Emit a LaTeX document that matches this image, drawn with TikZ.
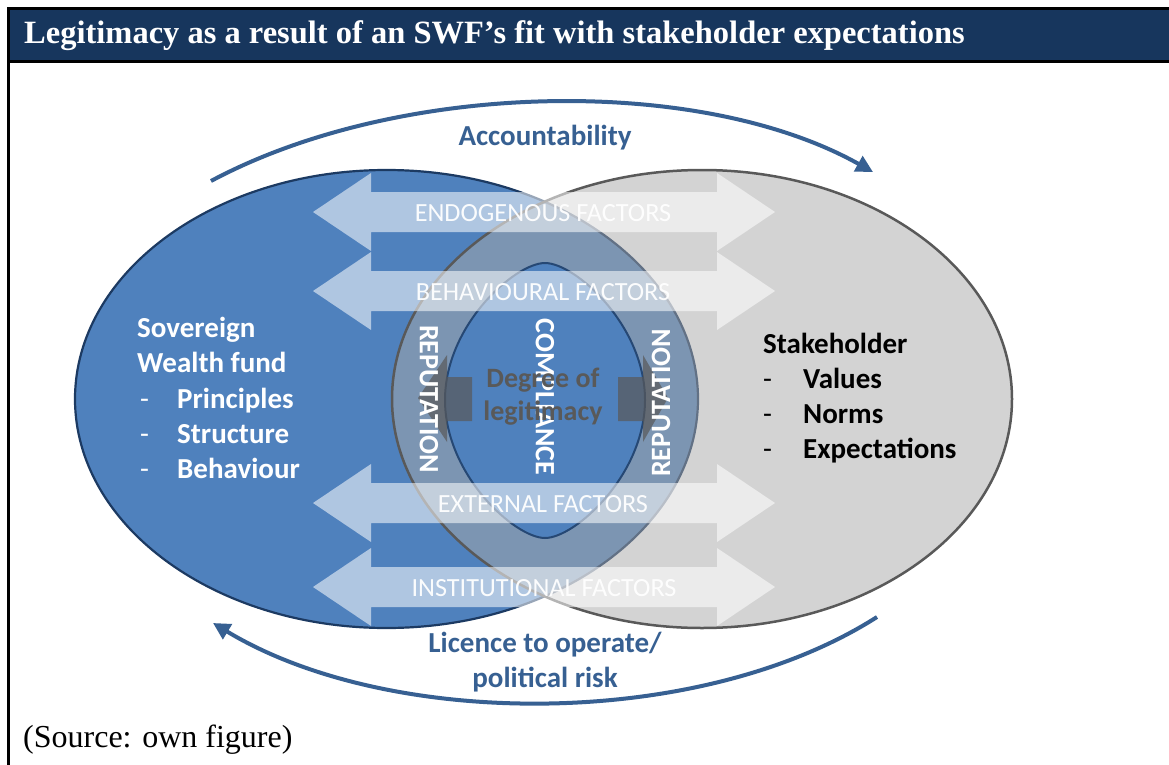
\documentclass[tikz,border=0pt]{standalone}
\usepackage{fontspec}
\setmainfont{Liberation Serif}
\newfontfamily\carlito{Carlito}
\usetikzlibrary{arrows.meta}
\definecolor{hdr}{RGB}{23,54,93}
\definecolor{swfblue}{RGB}{79,129,189}
\definecolor{swfedge}{RGB}{28,58,98}
\definecolor{greyfill}{RGB}{169,169,169}
\definecolor{greyedge}{RGB}{89,89,89}
\definecolor{arcblue}{RGB}{55,96,146}
\definecolor{dgrey}{RGB}{89,89,89}
\tikzset{
  facttext/.style={font=\carlito\fontsize{26.2}{30}\selectfont, text=white, text opacity=0.95, inner sep=0pt},
  vtext/.style={font=\carlito\bfseries\fontsize{28}{32}\selectfont, text=white, inner sep=0pt},
  lbl/.style={font=\carlito\bfseries\fontsize{29}{34}\selectfont, anchor=base west, inner sep=0pt},
  dashlbl/.style={font=\carlito\fontsize{29}{34}\selectfont, anchor=base west, inner sep=0pt},
  arclbl/.style={font=\carlito\bfseries\fontsize{29}{35}\selectfont, text=arcblue, align=center, inner sep=0pt},
  dblarrow/.style={fill=white, fill opacity=0.55},
  darkarrow/.style={fill=dgrey, fill opacity=0.7},
  cyclearc/.style={draw=arcblue, line width=4pt, -{Triangle[length=17pt,width=17pt]}},
}
\begin{document}
\begin{tikzpicture}[x=1pt,y=-1pt]
\useasboundingbox (0,0) rectangle (1169,765);
\fill[white] (0,0) rectangle (1169,765);

% header
\fill[hdr] (8,8) rectangle (1169,62);
\draw[black, line width=3pt] (1169,9) -- (8.5,9) -- (8.5,765);
\draw[black, line width=3pt] (8,62) -- (1169,62);
\node[anchor=base west, inner sep=0pt, text=white, font=\bfseries\fontsize{32.5}{38}\selectfont] (title) at (24,44)
  {Legitimacy as a result of an SWF’s fit with stakeholder expectations};

% ellipses
\fill[swfblue] (386.5,399) ellipse [x radius=311.5, y radius=229];
\draw[swfedge, line width=2.2pt] (386.5,399) ellipse [x radius=311.5, y radius=229];
\fill[greyfill, fill opacity=0.5] (702,399) ellipse [x radius=310, y radius=229];
\draw[greyedge, line width=2.5pt] (702,399) ellipse [x radius=310, y radius=229];

% inner lens
\path[fill=swfblue, draw=swfedge!80!swfblue, line width=2pt]
  (545,263) .. controls (575,263) and (645,325) .. (645,400)
  .. controls (645,475) and (575,538) .. (545,538)
  .. controls (515,538) and (445,475) .. (445,400)
  .. controls (445,325) and (515,263) .. (545,263) -- cycle;

% double arrows
\foreach \c in {212,291,503,587}{
  \path[dblarrow] (313,\c) -- (371,\c-39) -- (371,\c-20) -- (717,\c-20) -- (717,\c-39) -- (775,\c)
    -- (717,\c+39) -- (717,\c+20) -- (371,\c+20) -- (371,\c+39) -- cycle;
}
\node[facttext] (endo) at (543,213) {ENDOGENOUS FACTORS};
\node[facttext] (behav) at (543,292) {BEHAVIOURAL FACTORS};
\node[facttext] (ext) at (543,504) {EXTERNAL FACTORS};
\node[facttext] (inst) at (544,588) {INSTITUTIONAL FACTORS};

% dark arrows
\path[darkarrow] (418,398) -- (447,355) -- (447,377) -- (472,377) -- (472,421) -- (447,421) -- (447,442) -- cycle;
\path[darkarrow] (668,398) -- (643,355) -- (643,377) -- (618,377) -- (618,421) -- (643,421) -- (643,442) -- cycle;

% vertical texts
\node[vtext, rotate=-90] (repl) at (429,399) {REPUTATION};
\node[vtext, rotate=-90] (compl) at (545,397) {COMPLIANCE};
\node[vtext, rotate=90] (repr) at (661,403) {REPUTATION};

% degree text
\node[font=\carlito\bfseries\fontsize{28}{33}\selectfont, text=dgrey, align=center, inner sep=0pt] (degree) at (543,397)
  {Degree of\\legitimacy};

% left text
\node[lbl, text=white] (sov) at (137,337) {Sovereign};
\node[lbl, text=white] (wealth) at (137,372) {Wealth fund};
\node[dashlbl, text=white] (d1) at (140,408) {-};
\node[dashlbl, text=white] (d2) at (140,443) {-};
\node[dashlbl, text=white] (d3) at (140,478) {-};
\node[lbl, text=white] (princ) at (177,408) {Principles};
\node[lbl, text=white] (struct) at (177,443) {Structure};
\node[lbl, text=white] (behv) at (177,478) {Behaviour};

% right text
\node[lbl, text=black] (stake) at (763,353) {Stakeholder};
\node[dashlbl, text=black] (e1) at (763,388) {-};
\node[dashlbl, text=black] (e2) at (763,423) {-};
\node[dashlbl, text=black] (e3) at (763,458) {-};
\node[lbl, text=black] (values) at (803,388) {Values};
\node[lbl, text=black] (norms) at (803,423) {Norms};
\node[lbl, text=black] (expect) at (803,458) {Expectations};

% arcs
\coordinate (topL) at (211,181);
\coordinate (topR) at (873,172);
\coordinate (botR) at (877,617);
\coordinate (botL) at (213,623);
\draw[cyclearc] (topL) .. controls (400,80) and (700,75) .. (topR);
\draw[cyclearc] (botR) .. controls (700,730) and (390,730) .. (botL);
\node[arclbl] (acc) at (545,138) {Accountability};
\node[arclbl] (lic) at (545,662) {Licence to operate/\\political risk};

% source
\node[anchor=base west, inner sep=0pt, font=\fontsize{32}{38}\selectfont] (source) at (23,747) {(Source: own figure)};
\end{tikzpicture}
\end{document}
